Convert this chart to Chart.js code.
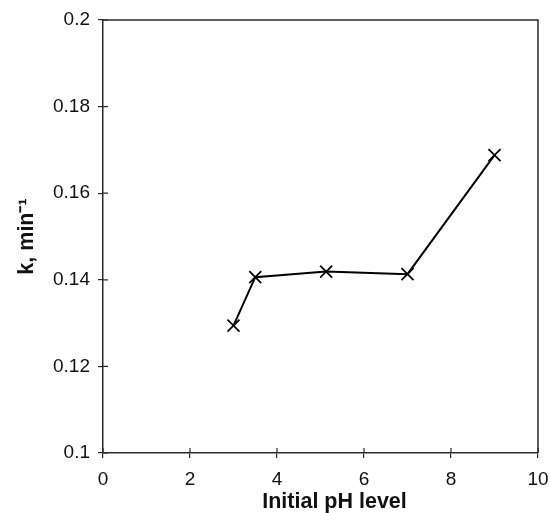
<!DOCTYPE html>
<html>
<head>
<meta charset="utf-8">
<script src="https://cdn.jsdelivr.net/npm/chart.js@4"></script>
<style>
html,body{margin:0;padding:0;background:#fff;}
canvas{display:block;}
</style>
</head>
<body>
<canvas id="c" width="550" height="513"></canvas>
<script>
const phLevels = [3.0, 3.5, 5.13, 7.0, 9.0];
const kValues = [0.1294, 0.1406, 0.1419, 0.1413, 0.1688];
const xTicks = [0, 2, 4, 6, 8, 10];
const yTicks = [0.1, 0.12, 0.14, 0.16, 0.18, 0.2];
const xTitle = 'Initial pH level';
const yTitle = 'k, min\u207B\u00B9';

const AXIS_COLOR = '#2a2a2a';
const FONT = 'Liberation Sans, Arial, sans-serif';

const framePlugin = {
  id: 'frame',
  beforeDraw(chart) {
    const sx = chart.scales.x;
    if (!sx._titlePatched) {
      const orig = sx.drawTitle;
      sx.drawTitle = function () {
        this.ctx.save();
        this.ctx.translate(14, 0);
        orig.call(this);
        this.ctx.restore();
      };
      sx._titlePatched = true;
    }
  },
  afterDraw(chart) {
    const {ctx, chartArea: a, scales} = chart;
    ctx.save();
    ctx.strokeStyle = AXIS_COLOR;
    ctx.lineWidth = 1.5;
    ctx.beginPath();
    ctx.moveTo(a.left, a.top);
    ctx.lineTo(a.right, a.top);
    ctx.lineTo(a.right, a.bottom);
    ctx.stroke();
    ctx.lineWidth = 1.2;
    ctx.beginPath();
    scales.x.ticks.forEach(t => {
      const px = scales.x.getPixelForValue(t.value);
      ctx.moveTo(px, a.bottom);
      ctx.lineTo(px, a.bottom - 5);
    });
    scales.y.ticks.forEach(t => {
      const py = scales.y.getPixelForValue(t.value);
      ctx.moveTo(a.left, py);
      ctx.lineTo(a.left + 5, py);
    });
    ctx.stroke();
    ctx.restore();
  }
};

new Chart(document.getElementById('c'), {
  type: 'scatter',
  data: {
    datasets: [{
      data: phLevels.map((x, i) => ({x: x, y: kValues[i]})),
      showLine: true,
      borderColor: '#000',
      borderWidth: 2,
      pointStyle: 'crossRot',
      pointRadius: 8.5,
      pointBorderWidth: 1.7,
      pointBorderColor: '#000',
      pointBackgroundColor: '#000',
      tension: 0
    }]
  },
  plugins: [framePlugin],
  options: {
    responsive: false,
    animation: false,
    devicePixelRatio: 1,
    layout: {padding: {top: 20, right: 12, left: 0, bottom: 0}},
    plugins: {legend: {display: false}, tooltip: {enabled: false}},
    scales: {
      x: {
        type: 'linear',
        min: 0, max: 10,
        afterBuildTicks(s) { s.ticks = xTicks.map(v => ({value: v})); },
        afterFit(s) { s.height = 60; s.paddingLeft = 0; s.paddingRight = 0; },
        border: {display: true, color: AXIS_COLOR, width: 1.5},
        grid: {drawOnChartArea: false, drawTicks: true, tickLength: 5, color: AXIS_COLOR, lineWidth: 1.2},
        ticks: {color: '#111', font: {family: FONT, size: 19}, padding: 10, maxRotation: 0},
        title: {display: true, text: xTitle, color: '#111', font: {family: FONT, size: 21.5, weight: 'bold', lineHeight: 1}, padding: {top: 0, bottom: 0}}
      },
      y: {
        type: 'linear',
        min: 0.1, max: 0.2,
        afterBuildTicks(s) { s.ticks = yTicks.map(v => ({value: v})); },
        afterFit(s) { s.width = 103; s.paddingTop = 0; s.paddingBottom = 0; },
        border: {display: true, color: AXIS_COLOR, width: 1.5},
        grid: {drawOnChartArea: false, drawTicks: true, tickLength: 5, color: AXIS_COLOR, lineWidth: 1.2},
        ticks: {color: '#111', font: {family: FONT, size: 19}, padding: 8,
          callback: v => String(Math.round(v * 100) / 100)},
        title: {display: true, text: yTitle, color: '#111', font: {family: FONT, size: 21.5, weight: 'bold', lineHeight: 1.2}, padding: {top: 14, bottom: 0}}
      }
    }
  }
});
</script>
</body>
</html>
